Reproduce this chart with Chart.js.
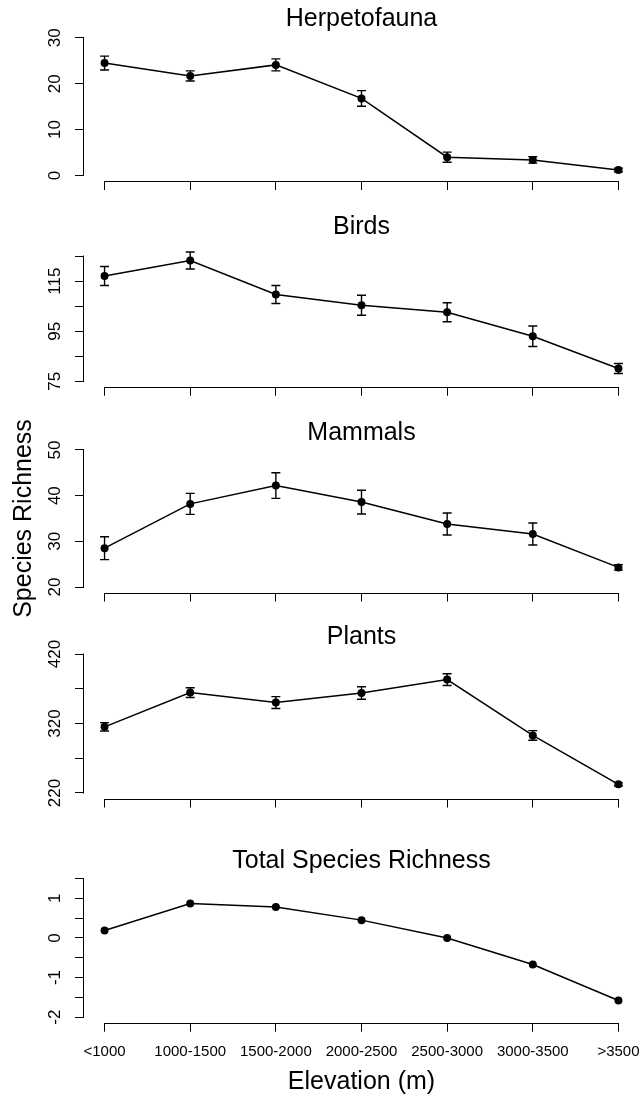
<!DOCTYPE html>
<html>
<head>
<meta charset="utf-8">
<script src="https://cdn.jsdelivr.net/npm/chart.js@4.4.0/dist/chart.umd.min.js"></script>
<style>
  html, body { margin: 0; padding: 0; background: #fff; }
  #wrap { position: relative; width: 643px; height: 1096px; overflow: hidden; }
  canvas { position: absolute; left: 0; }
</style>
</head>
<body>
<div id="wrap"></div>
<script>
'use strict';

var elevations = ['<1000', '1000-1500', '1500-2000', '2000-2500', '2500-3000', '3000-3500', '>3500'];

var herpetofauna = [24.5, 21.7, 24.1, 16.8, 4.0, 3.4, 1.2];
var herpetofaunaErr = [1.5, 1.1, 1.3, 1.7, 1.1, 0.7, 0.4];
var herpetofaunaTicks = [0, 10, 20, 30];
var herpetofaunaTickLabels = ['0', '10', '20', '30'];

var birds = [117.1, 123.3, 109.7, 105.4, 102.6, 93.0, 80.1];
var birdsErr = [3.8, 3.4, 3.6, 4.0, 3.8, 4.1, 2.0];
var birdsTicks = [75, 85, 95, 105, 115, 125];
var birdsTickLabels = ['75', '', '95', '', '115', ''];

var mammals = [28.5, 38.2, 42.2, 38.6, 33.8, 31.6, 24.3];
var mammalsErr = [2.5, 2.3, 2.8, 2.6, 2.4, 2.4, 0.6];
var mammalsTicks = [20, 30, 40, 50];
var mammalsTickLabels = ['20', '30', '40', '50'];

var plants = [315.2, 364.5, 350.2, 364.0, 383.2, 302.8, 232.4];
var plantsErr = [6, 7, 8.5, 9, 8.5, 7, 2.5];
var plantsTicks = [220, 270, 320, 370, 420];
var plantsTickLabels = ['220', '', '320', '', '420'];

var total = [0.19, 0.87, 0.78, 0.45, 0.0, -0.67, -1.58];
var totalTicks = [-2, -1.5, -1, -0.5, 0, 0.5, 1, 1.5];
var totalTickLabels = ['-2', '', '-1', '', '0', '', '1', ''];

var FONT = '"Liberation Sans", Arial, sans-serif';
var Y_TICK_SIZE = 17;

var panels = [
    { title: 'Herpetofauna', values: herpetofauna, errors: herpetofaunaErr, ticks: herpetofaunaTicks, labels: herpetofaunaTickLabels,
      min: -1.2, max: 31.2, top: 0, height: 193, titleY: 19, plotTop: 32.3, plotBottom: 181 },
    { title: 'Birds', values: birds, errors: birdsErr, ticks: birdsTicks, labels: birdsTickLabels,
      min: 72.8, max: 132.2, top: 210, height: 189, titleY: 226.7, plotTop: 238.2, plotBottom: 386.7 },
    { title: 'Mammals', values: mammals, errors: mammalsErr, ticks: mammalsTicks, labels: mammalsTickLabels,
      min: 18.8, max: 51.2, top: 395, height: 240, titleY: 433.3, plotTop: 444.5, plotBottom: 592.5, padBottom: 30,
      yTitle: 'Species Richness' },
    { title: 'Plants', values: plants, errors: plantsErr, ticks: plantsTicks, labels: plantsTickLabels,
      min: 212, max: 428, top: 620, height: 191, titleY: 636.7, plotTop: 648.5, plotBottom: 798.5 },
    { title: 'Total Species Richness', values: total, errors: null, ticks: totalTicks, labels: totalTickLabels,
      min: -2.14, max: 1.64, top: 845, height: 251, titleY: 861, plotTop: 873, plotBottom: 1022.7, showX: true }
];

// R style axes: line only from first to last tick
var rAxes = {
    id: 'rAxes',
    afterDraw: function (chart) {
        var ctx = chart.ctx, x = chart.scales.x, y = chart.scales.y, a = chart.chartArea;
        ctx.save();
        ctx.strokeStyle = '#000';
        ctx.lineWidth = 1;
        ctx.beginPath();
        var yb = Math.round(a.bottom) + 0.5;
        ctx.moveTo(x.getPixelForValue(x.ticks[0].value), yb);
        ctx.lineTo(x.getPixelForValue(x.ticks[x.ticks.length - 1].value), yb);
        var xl = Math.round(a.left) - 0.5;
        ctx.moveTo(xl, Math.round(y.getPixelForValue(y.ticks[0].value)) + 0.5);
        ctx.lineTo(xl, Math.round(y.getPixelForValue(y.ticks[y.ticks.length - 1].value)) - 0.5);
        ctx.stroke();
        ctx.restore();
    }
};

var errorBars = {
    id: 'errorBars',
    afterDatasetsDraw: function (chart) {
        var ds = chart.data.datasets[0];
        if (!ds.errors) return;
        var ctx = chart.ctx, x = chart.scales.x, y = chart.scales.y;
        ctx.save();
        ctx.strokeStyle = '#000';
        ctx.lineWidth = 1.4;
        ds.data.forEach(function (pt, i) {
            var px = x.getPixelForValue(pt.x);
            var hi = y.getPixelForValue(pt.y + ds.errors[i]);
            var lo = y.getPixelForValue(pt.y - ds.errors[i]);
            ctx.beginPath();
            ctx.moveTo(px, hi); ctx.lineTo(px, lo);
            ctx.moveTo(px - 4.5, hi); ctx.lineTo(px + 4.5, hi);
            ctx.moveTo(px - 4.5, lo); ctx.lineTo(px + 4.5, lo);
            ctx.stroke();
        });
        ctx.restore();
    }
};

function widestLabel(labels) {
    var ctx = document.createElement('canvas').getContext('2d');
    ctx.font = Y_TICK_SIZE + 'px ' + FONT;
    return Math.max.apply(null, labels.map(function (l) { return ctx.measureText(l).width; }));
}

panels.forEach(drawPanel);

function drawPanel(p) {
    var canvas = document.createElement('canvas');
    canvas.width = 643;
    canvas.height = p.height;
    canvas.style.top = p.top + 'px';
    document.getElementById('wrap').appendChild(canvas);

    var padTop = p.titleY - 10 - p.top;
    var padBottom = p.padBottom || 0;
    var xHeight = p.top + p.height - padBottom - p.plotBottom;
    var yPad = 20 - widestLabel(p.labels) / 2;

    new Chart(canvas.getContext('2d'), {
        type: 'line',
        data: {
            datasets: [{
                data: p.values.map(function (v, i) { return { x: i, y: v }; }),
                errors: p.errors,
                borderColor: '#000',
                borderWidth: 1.5,
                pointRadius: 4,
                pointBackgroundColor: '#000',
                pointBorderColor: '#000',
                pointBorderWidth: 0,
                tension: 0,
                clip: false
            }]
        },
        options: {
            responsive: false,
            animation: false,
            devicePixelRatio: 1,
            layout: { padding: { top: padTop, bottom: padBottom, left: 0, right: 0 } },
            plugins: {
                legend: { display: false },
                tooltip: { enabled: false },
                title: {
                    display: true,
                    text: p.title,
                    fullSize: false,
                    color: '#000',
                    font: { family: FONT, size: 25, weight: 'normal', lineHeight: 0.8 },
                    padding: { top: 0, bottom: p.plotTop - p.titleY - 10 }
                }
            },
            scales: {
                x: {
                    type: 'linear',
                    min: -0.24,
                    max: 6.24,
                    afterBuildTicks: function (s) {
                        s.ticks = elevations.map(function (c, i) { return { value: i }; });
                    },
                    afterFit: function (s) {
                        s.height = xHeight;
                        s.paddingLeft = 0;
                        s.paddingRight = 0;
                    },
                    border: { display: false },
                    grid: { drawOnChartArea: false, drawTicks: true, tickLength: 9, color: '#000', lineWidth: 1 },
                    ticks: {
                        display: !!p.showX,
                        autoSkip: false,
                        maxRotation: 0,
                        padding: 11,
                        color: '#000',
                        font: { family: FONT, size: 15 },
                        callback: function (v) { return elevations[v]; }
                    },
                    title: {
                        display: !!p.showX,
                        text: 'Elevation (m)',
                        color: '#000',
                        font: { family: FONT, size: 25, lineHeight: 1 },
                        padding: { top: 0, bottom: 1.8 }
                    }
                },
                y: {
                    min: p.min,
                    max: p.max,
                    afterBuildTicks: function (s) {
                        s.ticks = p.ticks.map(function (v) { return { value: v }; });
                    },
                    afterFit: function (s) {
                        s.width = 84;
                        s.paddingTop = 0;
                        s.paddingBottom = 0;
                    },
                    border: { display: false },
                    grid: { drawOnChartArea: false, drawTicks: true, tickLength: 9, color: '#000', lineWidth: 1 },
                    ticks: {
                        autoSkip: false,
                        minRotation: 90,
                        maxRotation: 90,
                        crossAlign: 'center',
                        padding: yPad,
                        color: '#000',
                        font: { family: FONT, size: Y_TICK_SIZE },
                        callback: function (v, i) { return p.labels[i]; }
                    },
                    title: {
                        display: !!p.yTitle,
                        text: p.yTitle || '',
                        color: '#000',
                        font: { family: FONT, size: 25, lineHeight: 1 },
                        padding: { top: 12, bottom: 0 }
                    }
                }
            }
        },
        plugins: [rAxes, errorBars]
    });
}
</script>
</body>
</html>
